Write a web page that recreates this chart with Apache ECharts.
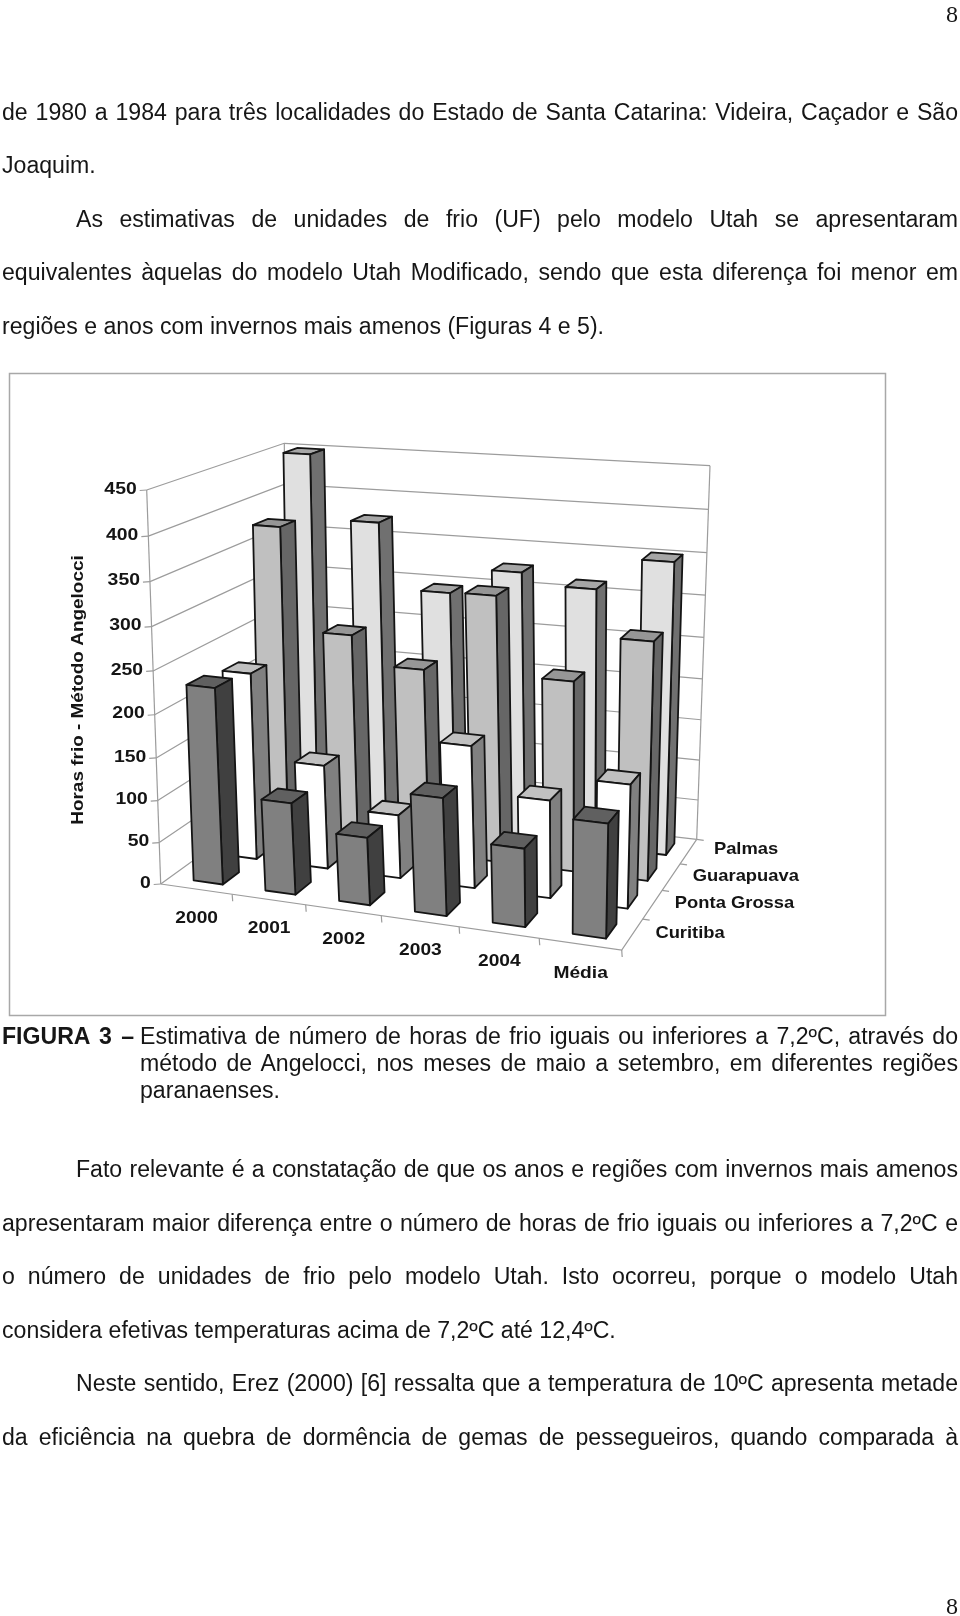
<!DOCTYPE html>
<html><head><meta charset="utf-8">
<style>
html,body{margin:0;padding:0;background:#fff;}
#page{position:relative;width:960px;height:1616px;overflow:hidden;}
#chart{position:absolute;left:0;top:0;width:960px;height:1616px;}
.ln{position:absolute;font-family:"Liberation Sans",Arial,sans-serif;font-size:23.1px;line-height:26px;color:#161616;white-space:normal;text-align:justify;text-align-last:justify;}
.ln.free{text-align:left;text-align-last:left;white-space:nowrap;}
.pg{position:absolute;font-family:"Liberation Serif",serif;font-size:24px;line-height:24px;color:#161616;}
</style></head>
<body><div id="page"><div id="chart"></div></div>
<script src="https://cdn.jsdelivr.net/npm/echarts@6/dist/echarts.min.js"></script>
<script>
// ---------- data ----------
var categories = ['2000','2001','2002','2003','2004','Média'];
var seriesNames = ['Curitiba','Ponta Grossa','Guarapuava','Palmas'];
var curitiba    = [231, 108, 79, 136, 90, 130];
var pontaGrossa = [225, 125, 76, 168, 115, 144];
var guarapuava  = [378, 257, 224, 318, 227, 281];
var palmas      = [449, 373, 295, 326, 313, 351];
var valueTicks  = [0, 50, 100, 150, 200, 250, 300, 350, 400, 450];
var axisTitle   = 'Horas frio - Método Angelocci';

var bodyLines = [
 ['de 1980 a 1984 para três localidades do Estado de Santa Catarina: Videira, Caçador e São', 2, 112, 0],
 ['Joaquim.', 2, 165, 1],
 ['As estimativas de unidades de frio (UF) pelo modelo Utah se apresentaram', 76, 219, 0],
 ['equivalentes àquelas do modelo Utah Modificado, sendo que esta diferença foi menor em', 2, 272, 0],
 ['regiões e anos com invernos mais amenos (Figuras 4 e 5).', 2, 326, 1],
 ['Estimativa de número de horas de frio iguais ou inferiores a 7,2ºC, através do', 140, 1035.5, 0],
 ['método de Angelocci, nos meses de maio a setembro, em diferentes regiões', 140, 1063, 0],
 ['paranaenses.', 140, 1089.5, 1],
 ['Fato relevante é a constatação de que os anos e regiões com invernos mais amenos', 76, 1169, 0],
 ['apresentaram maior diferença entre o número de horas de frio iguais ou inferiores a 7,2ºC e', 2, 1222.5, 0],
 ['o número de unidades de frio pelo modelo Utah. Isto ocorreu, porque o modelo Utah', 2, 1276, 0],
 ['considera efetivas temperaturas acima de 7,2ºC até 12,4ºC.', 2, 1330, 1],
 ['Neste sentido, Erez (2000) [6] ressalta que a temperatura de 10ºC apresenta metade', 76, 1383, 0],
 ['da eficiência na quebra de dormência de gemas de pessegueiros, quando comparada à', 2, 1436.5, 0]
];

// ---------- document text around the chart ----------
var page = document.getElementById('page');
bodyLines.forEach(function (l) {
  var d = document.createElement('div');
  d.className = 'ln' + (l[3] ? ' free' : '');
  d.textContent = l[0];
  d.style.left = l[1] + 'px';
  d.style.top = (l[2] - 13) + 'px';
  if (!l[3]) d.style.width = (958 - l[1]) + 'px';
  page.appendChild(d);
});
var fig = document.createElement('div');
fig.className = 'ln free';
fig.style.left = '2px'; fig.style.top = '1022.5px'; fig.style.fontWeight = 'bold';
fig.style.wordSpacing = '3px';
fig.textContent = 'FIGURA 3 –';
page.appendChild(fig);
[[946, 2], [946, 1594]].forEach(function (p) {
  var d = document.createElement('div');
  d.className = 'pg'; d.textContent = '8';
  d.style.left = p[0] + 'px'; d.style.top = p[1] + 'px';
  page.appendChild(d);
});

// ---------- perspective of the 3D box ----------
var G = {left: 160, top: 490, width: 460, height: 394};
function quad(p0, p1, p2, p3) {
  var x0=p0[0],y0=p0[1],x1=p1[0],y1=p1[1],x2=p2[0],y2=p2[1],x3=p3[0],y3=p3[1];
  var dx1=x1-x2,dx2=x3-x2,sx=x0-x1+x2-x3,dy1=y1-y2,dy2=y3-y2,sy=y0-y1+y2-y3;
  var den=dx1*dy2-dx2*dy1;
  var g=(sx*dy2-dx2*sy)/den,h=(dx1*sy-sx*dy1)/den;
  return {a:x1-x0+g*x1,b:x3-x0+h*x3,c:x0,d:y1-y0+g*y1,e:y3-y0+h*y3,f:y0,g:g,h:h};
}
var floorQ = quad([160.7,884],[621.7,950],[696.7,839.3],[288,792]);
var topQ   = quad([146.7,490],[632.6,530],[710,465.7],[284.3,443.3]);
function onQuad(Q, u, v) {
  var w = Q.g*u + Q.h*v + 1;
  return [(Q.a*u + Q.b*v + Q.c)/w, (Q.d*u + Q.e*v + Q.f)/w];
}
function proj(u, v, z) {
  var uw = u + (0.026 + 0.057*v)*u*(1-u);
  var a = onQuad(floorQ, uw, v), b = onQuad(topQ, uw, v);
  var t = z - 0.06*z*(1-z);
  return [a[0] + (b[0]-a[0])*t, a[1] + (b[1]-a[1])*t];
}
function uOf(px) { return (px - G.left)/G.width; }
function zOf(py) { return (G.top + G.height - py)/G.height; }

var LINE = '#9c9c9c', INK = '#141414';
var LABEL_FONT = 'bold 17px "Liberation Sans", Arial, sans-serif';
function seg(pts, color, lw) {
  return {type:'polyline', shape:{points:pts}, style:{fill:null, stroke:color||LINE, lineWidth:lw||1.2}};
}
function label(text, x, y, align, sx) {
  return {type:'text', x:x, y:y, scaleX:sx,
    style:{text:text, x:0, y:0, font:LABEL_FONT, fill:INK, textFill:INK,
      align:align, verticalAlign:'middle', textAlign:align, textVerticalAlign:'middle'}};
}

function renderGridline(params, api) {
  var z = zOf(api.coord([0, api.value(1)])[1]);
  var a = proj(0,0,z);
  return {type:'group', children:[
    seg([a, proj(0,1,z), proj(1,1,z)]),
    seg([a, [a[0]-7, a[1]+0.5]]),
    label(String(api.value(1)), a[0]-10, a[1]-1, 'right', 1.14)
  ]};
}
function renderFrame() {
  return {type:'group', children:[
    seg([proj(0,0,0), proj(0,0,1)]),
    seg([proj(0,1,0), proj(0,1,1)]),
    seg([proj(1,1,0), proj(1,1,1)]),
    seg([proj(0,0,0), proj(1,0,0), proj(1,1,0)])
  ]};
}
function renderCategoryAxis(params, api) {
  var p = api.coord([api.value(0), 0]);
  var bw = api.size([1,0])[0]/G.width;
  var u = uOf(p[0]);
  var end = proj(u + bw/2, 0, 0);
  var mid = proj(u, 0, 0);
  return {type:'group', children:[
    seg([end, [end[0]+0.5, end[1]+7]]),
    label(categories[api.value(0)], mid[0]+0.5, mid[1]+29, 'center', 1.13)
  ]};
}
function renderDepthAxis(params, api) {
  var i = api.value(0);
  var t = proj(1, (i+1)/4, 0), m = proj(1, (i+0.5)/4, 0);
  return {type:'group', children:[
    seg([t, [t[0]+7, t[1]+1]]),
    label(seriesNames[i], m[0]+23-0.7*i+(i===3?4.5:0), m[1]-1-(i===3?1:0), 'left', 1.08)
  ]};
}
var faces = [
  {front:'#808080', side:'#404040', top:'#606060'},
  {front:'#ffffff', side:'#808080', top:'#c0c0c0'},
  {front:'#c0c0c0', side:'#666666', top:'#969696'},
  {front:'#e0e0e0', side:'#707070', top:'#a6a6a6'}
];
var BAR_W = 0.41, BAR_D = 0.47, BAR_SHIFT = 0.006;
function barRenderer(row) {
  return function (params, api) {
    var p = api.coord([api.value(0), api.value(1)]);
    var bw = api.size([1,0])[0]/G.width;
    var uc = uOf(p[0]) + BAR_SHIFT, z = zOf(p[1]);
    var u0 = uc - bw*BAR_W/2, u1 = uc + bw*BAR_W/2;
    var v0 = (row + 0.5 - BAR_D/2)/4, v1 = (row + 0.5 + BAR_D/2)/4;
    var c = faces[row];
    function poly(pts, fill) {
      return {type:'polygon', shape:{points:pts},
        style:{fill:fill, stroke:INK, lineWidth:1.8, lineJoin:'round'}};
    }
    return {type:'group', children:[
      poly([proj(u0,v1,z),proj(u1,v1,z),proj(u1,v0,z),proj(u0,v0,z)], c.top),
      poly([proj(u1,v0,0),proj(u1,v1,0),proj(u1,v1,z),proj(u1,v0,z)], c.side),
      poly([proj(u0,v0,0),proj(u1,v0,0),proj(u1,v0,z),proj(u0,v0,z)], c.front)
    ]};
  };
}
var rows = [curitiba, pontaGrossa, guarapuava, palmas];
var series = [
  {name:'grid', type:'custom', renderItem:renderGridline, encode:{x:0,y:1},
   data:valueTicks.map(function(t){return [0,t];}), silent:true},
  {name:'frame', type:'custom', renderItem:renderFrame, encode:{x:0,y:1}, data:[[0,0]], silent:true},
  {name:'categoryAxis', type:'custom', renderItem:renderCategoryAxis, encode:{x:0,y:1},
   data:categories.map(function(c,i){return [i,0];}), silent:true},
  {name:'depthAxis', type:'custom', renderItem:renderDepthAxis, encode:{x:0,y:1},
   data:seriesNames.map(function(c,i){return [i,0];}), silent:true}
];
for (var r = 3; r >= 0; r--) {
  series.push({name:seriesNames[r], type:'custom', renderItem:barRenderer(r), encode:{x:0,y:1},
    data:rows[r].map(function(v,i){return [i,v];})});
}
var chart = echarts.init(document.getElementById('chart'), null, {renderer:'canvas'});
chart.setOption({
  animation:false,
  backgroundColor:'transparent',
  grid:{left:G.left, top:G.top, width:G.width, height:G.height},
  xAxis:{type:'category', data:categories, show:false},
  yAxis:{type:'value', min:0, max:450, interval:50, show:false},
  graphic:[
    {type:'rect', shape:{x:9.5,y:373.5,width:876,height:642}, style:{fill:'none', stroke:'#a8a8a8', lineWidth:1.5}, silent:true},
    {type:'text', x:78, y:690, rotation:Math.PI/2, scaleX:1.115,
     style:{text:axisTitle, font:'bold 17px "Liberation Sans", Arial, sans-serif', fill:INK, align:'center', verticalAlign:'middle'}, silent:true}
  ],
  series:series
});
</script></body></html>
